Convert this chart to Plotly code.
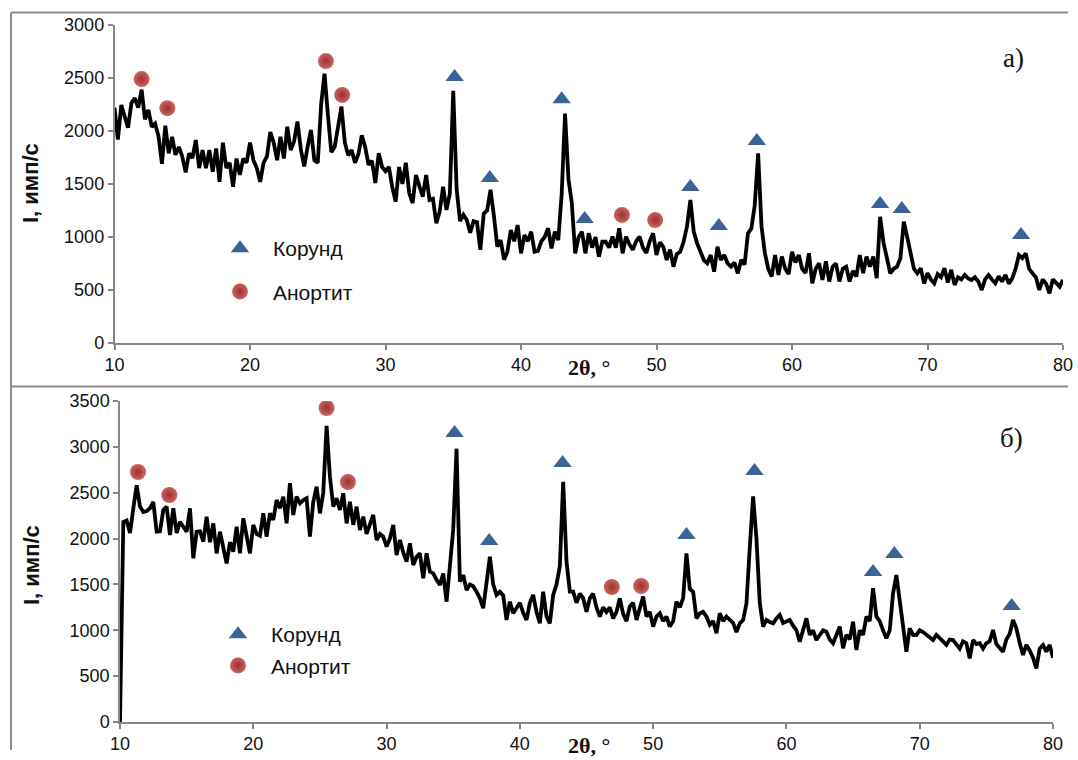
import numpy as np
import plotly.graph_objects as go

# 2theta grid (degrees)
two_theta = np.round(np.arange(10.0, 80.0001, 0.25), 2)

# Panel a) intensity, imp/s
intensity_a = [
    2220, 1920, 2245, 2150, 2030, 2265, 2310, 2220,
    2390, 2110, 2200, 2040, 2070, 1950, 1690, 2050,
    1790, 1945, 1775, 1850, 1760, 1610, 1790, 1745,
    1915, 1650, 1820, 1650, 1820, 1615, 1835, 1520,
    1890, 1650, 1700, 1475, 1740, 1585, 1740, 1700,
    1890, 1725, 1650, 1520, 1700, 1760, 1990, 1890,
    1725, 1945, 1740, 2040, 1820, 1900, 2090, 1830,
    1665, 1850, 2010, 1725, 1700, 2250, 2540, 2150,
    1800, 1850, 2060, 2230, 1890, 1770, 1820, 1700,
    1780, 1960, 1850, 1680, 1720, 1510, 1790, 1660,
    1620, 1660, 1470, 1335, 1660, 1500, 1700, 1415,
    1320, 1585, 1480, 1380, 1585, 1350, 1360, 1130,
    1240, 1475, 1255, 1410, 2380, 1450, 1150, 1210,
    1160, 1040, 1150, 1140, 880, 1220, 1250, 1445,
    1200, 910, 970, 785, 862, 1066, 960, 1113,
    846, 1019, 960, 1050, 862, 870, 960, 1000,
    1082, 893, 1050, 971, 1400, 2165, 1550, 1320,
    846, 1000, 1050, 846, 1035, 900, 1000, 814,
    955, 955, 900, 1003, 900, 1082, 846, 1003,
    930, 880, 960, 1003, 900, 850, 960, 1035,
    830, 950, 908, 783, 880, 720, 840, 860,
    955, 1100, 1349, 1050, 940, 862, 780, 752,
    830, 673, 908, 783, 830, 750, 720, 760,
    657, 783, 740, 1035, 1080, 1300, 1790, 1100,
    846, 700, 627, 830, 642, 815, 700, 650,
    861, 760, 830, 700, 660, 846, 563, 700,
    752, 595, 770, 580, 720, 750, 580, 700,
    720, 580, 680, 627, 830, 660, 815, 720,
    815, 611, 1190, 950, 800, 658, 700, 720,
    800, 1144, 1000, 850, 700, 658, 705, 563,
    660, 600, 563, 650, 620, 705, 570, 690,
    548, 620, 600, 642, 610, 595, 620, 580,
    500, 600, 640, 600, 563, 630, 580, 642,
    560, 610, 700, 830, 800, 846, 700, 658,
    620, 500, 600, 560, 469, 600, 560, 532,
    595,
]

# Panel b) intensity, imp/s
intensity_b = [
    0, 2180, 2195, 2060, 2330, 2580, 2350, 2290,
    2300, 2330, 2400, 2075, 2080, 2312, 2348, 2039,
    2330, 2060, 2184, 2120, 2075, 2330, 1785, 2075,
    2080, 1967, 2239, 1960, 2166, 1839, 2075, 1900,
    1730, 1960, 1857, 2130, 1840, 2221, 2000, 1839,
    2148, 2050, 2030, 2275, 2020, 2275, 2203, 2421,
    2330, 2457, 2166, 2603, 2257, 2457, 2385, 2420,
    2440, 2021, 2400, 2566, 2275, 2500, 3230, 2675,
    2348, 2440, 2312, 2494, 2166, 2400, 2150, 2348,
    2094, 2239, 2050, 2150, 2257, 1985, 2050, 2020,
    1912, 2000, 2148, 1821, 1985, 1850, 1748, 1948,
    1712, 1800, 1839, 1567, 1839, 1640, 1621, 1550,
    1494, 1620, 1312, 1700, 2100, 2980, 1530, 1603,
    1439, 1500, 1480, 1420, 1350, 1240, 1567, 1803,
    1500, 1385, 1420, 1380, 1112, 1312, 1185, 1250,
    1300, 1190, 1112, 1300, 1385, 1200, 1076, 1421,
    1150, 1076, 1385, 1500, 1700, 2620, 1750, 1421,
    1421, 1300, 1400, 1350, 1203, 1350, 1400, 1250,
    1149, 1250, 1200, 1250, 1130, 1200, 1349, 1180,
    1100, 1260, 1300, 1112, 1250, 1367, 1150, 1200,
    1040, 1150, 1185, 1100, 1150, 1040, 1100, 1312,
    1250, 1350, 1839, 1450, 1421, 1130, 1185, 1200,
    1150, 1060, 1100, 967, 1185, 1100, 1150, 1112,
    1080, 980, 1076, 1112, 1291, 1900, 2460, 2000,
    1300, 1040, 1112, 1090, 1076, 1130, 1167, 1080,
    1100, 1112, 1050, 1000, 876, 1000, 1130, 950,
    1000, 894, 950, 1000, 985, 900, 858, 950,
    1040, 804, 950, 900, 1094, 785, 1000, 950,
    1149, 1100, 1458, 1150, 1100, 1000, 912, 1000,
    1403, 1603, 1331, 1000, 767, 1022, 950, 949,
    1000, 980, 950, 920, 894, 950, 920, 880,
    840, 900, 894, 850, 800, 880, 860, 694,
    894, 850, 860, 800, 860, 880, 1003, 850,
    800, 767, 900, 960, 1112, 1022, 860, 731,
    840, 780, 700, 585, 800, 840, 767, 840,
    700,
]

# Phase markers (position, marker height)
korund_a_x = [35.1, 37.7, 43.0, 44.7, 52.5, 54.6, 57.4, 66.5, 68.1, 76.9]
korund_a_y = [2510, 1557, 2300, 1170, 1472, 1104, 1906, 1311, 1264, 1019]
anortit_a_x = [12.0, 13.9, 25.6, 26.8, 47.45, 49.9]
anortit_a_y = [2490, 2215, 2660, 2340, 1208, 1160]

korund_b_x = [35.1, 37.7, 43.2, 52.5, 57.6, 66.5, 68.1, 76.9]
korund_b_y = [3151, 1974, 2824, 2039, 2737, 1636, 1832, 1265]
anortit_b_x = [11.35, 13.7, 25.5, 27.1, 46.9, 49.1]
anortit_b_y = [2726, 2475, 3424, 2617, 1472, 1483]

x_ticks = [10, 20, 30, 40, 50, 60, 70, 80]
phase_names = ["Корунд", "Анортит"]
panel_labels = ["а)", "б)"]

W, H = 1078, 760
# the figure is drawn inside the window with a 10 px inset on every side
OFF = 10
PW, PH = W - 2 * OFF, H - 2 * OFF
BLUE = "#3A6496"
RED = "#9A3232"
RED_LIGHT = "#CC6262"
GRAY = "#868686"
SANS = "Liberation Sans"
SERIF = "Liberation Serif"


def px(x):
    return (x - OFF) / PW


def py(y):
    return 1 - (y - OFF) / PH


fig = go.Figure()

# panel a
fig.add_trace(go.Scatter(x=two_theta, y=intensity_a, mode="lines",
                         line=dict(color="black", width=3.8), showlegend=False,
                         xaxis="x", yaxis="y"))
fig.add_trace(go.Scatter(x=korund_a_x, y=korund_a_y, mode="markers", name=phase_names[0],
                         marker=dict(symbol="triangle-up", size=16, color=BLUE),
                         xaxis="x", yaxis="y", legend="legend", legendgroup="a1"))
fig.add_trace(go.Scatter(x=anortit_a_x, y=anortit_a_y, mode="markers", name=phase_names[1],
                         marker=dict(symbol="circle", size=16, color=RED_LIGHT,
                                     gradient=dict(type="radial", color=RED)),
                         xaxis="x", yaxis="y", legend="legend", legendgroup="a2"))

# panel b
fig.add_trace(go.Scatter(x=two_theta, y=intensity_b, mode="lines",
                         line=dict(color="black", width=3.8), showlegend=False,
                         xaxis="x2", yaxis="y2"))
fig.add_trace(go.Scatter(x=korund_b_x, y=korund_b_y, mode="markers", name=phase_names[0],
                         marker=dict(symbol="triangle-up", size=16, color=BLUE),
                         xaxis="x2", yaxis="y2", legend="legend2", legendgroup="b1"))
fig.add_trace(go.Scatter(x=anortit_b_x, y=anortit_b_y, mode="markers", name=phase_names[1],
                         marker=dict(symbol="circle", size=16, color=RED_LIGHT,
                                     gradient=dict(type="radial", color=RED)),
                         xaxis="x2", yaxis="y2", legend="legend2", legendgroup="b2"))

axis_common = dict(showline=True, linecolor=GRAY, linewidth=1.5, ticks="outside",
                   ticklen=5, tickwidth=1.5, tickcolor=GRAY, showgrid=False, zeroline=False,
                   tickfont=dict(family=SANS, size=18, color="#111"))

fig.update_layout(
    width=W, height=H,
    margin=dict(l=0, r=0, t=0, b=0),
    paper_bgcolor="white", plot_bgcolor="white",
    xaxis=dict(domain=[px(114.5), px(1063)], range=[10, 80], tickvals=x_ticks,
               anchor="y", **axis_common),
    yaxis=dict(domain=[py(343), py(25)], range=[0, 3000], dtick=500, anchor="x",
               **axis_common),
    xaxis2=dict(domain=[px(120), px(1053)], range=[10, 80], tickvals=x_ticks,
                anchor="y2", **axis_common),
    yaxis2=dict(domain=[py(722), py(401)], range=[0, 3500], dtick=500, anchor="x2",
                **axis_common),
    legend=dict(x=px(207), y=py(228), xanchor="left", yanchor="top",
                bgcolor="rgba(0,0,0,0)", tracegroupgap=13, itemwidth=56,
                font=dict(family=SANS, size=21, color="#111")),
    legend2=dict(x=px(205), y=py(614), xanchor="left", yanchor="top",
                 bgcolor="rgba(0,0,0,0)", tracegroupgap=1, itemwidth=56,
                 font=dict(family=SANS, size=21, color="#111")),
    showlegend=True,
)

ann = []
for yc, yt in [(183, "I, имп/с"), (565, "I, имп/с")]:
    ann.append(dict(x=px(31), y=py(yc), xref="paper", yref="paper", text="<b>%s</b>" % yt,
                    textangle=-90, showarrow=False, xanchor="center", yanchor="middle",
                    font=dict(family=SANS, size=22, color="#111")))
for yc in [367, 745]:
    ann.append(dict(x=px(589), y=py(yc), xref="paper", yref="paper", text="<b>2θ, °</b>",
                    showarrow=False, xanchor="center", yanchor="middle",
                    font=dict(family=SERIF, size=22, color="#111")))
ann.append(dict(x=px(1013), y=py(58), xref="paper", yref="paper", text=panel_labels[0],
                showarrow=False, xanchor="center", yanchor="middle",
                font=dict(family=SERIF, size=27, color="#111")))
ann.append(dict(x=px(1011), y=py(438), xref="paper", yref="paper", text=panel_labels[1],
                showarrow=False, xanchor="center", yanchor="middle",
                font=dict(family=SERIF, size=27, color="#111")))
fig.update_layout(annotations=ann)

frame = dict(color="#8C8C8C", width=2)
fig.update_layout(shapes=[
    dict(type="line", xref="paper", yref="paper", x0=px(11), x1=1.0, y0=py(12.5), y1=py(12.5), line=frame),
    dict(type="line", xref="paper", yref="paper", x0=px(11), x1=1.0, y0=py(386.5), y1=py(386.5), line=frame),
    dict(type="line", xref="paper", yref="paper", x0=px(11), x1=px(11), y0=0, y1=py(12.5), line=frame),
])

fig.write_html(
    "out.html",
    config={"displayModeBar": False},
    post_script="document.body.style.margin='0';document.body.style.padding='0';"
                "document.body.style.overflow='hidden';",
)
